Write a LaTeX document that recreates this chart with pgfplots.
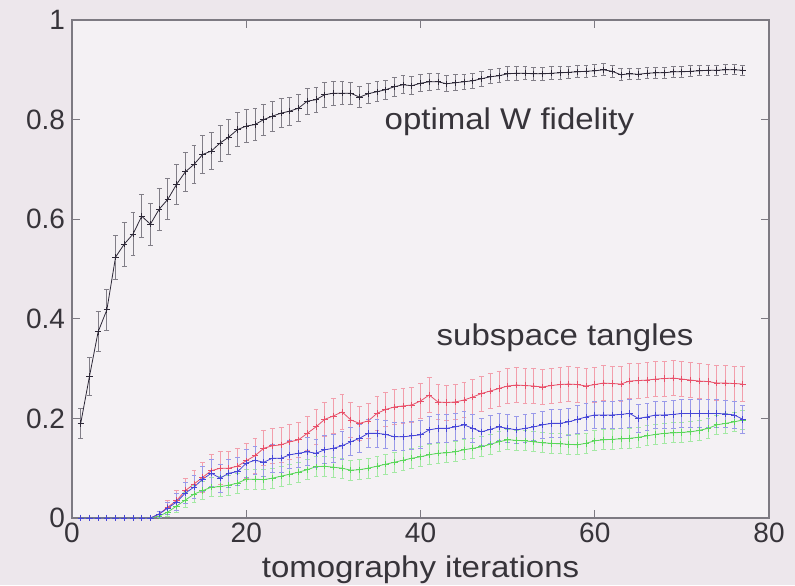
\documentclass[border=0pt]{standalone}
\usepackage{pgfplots}
\pgfplotsset{compat=1.18}
\usepackage{pgfplotstable}
\usepackage{fontspec}
\setmainfont{Liberation Sans}
\newfontfamily\widefont[FakeStretch=1.1]{Liberation Sans}
\definecolor{bgc}{RGB}{237,231,236}
\definecolor{txt}{RGB}{55,52,58}
\definecolor{axc}{RGB}{125,122,130}
\definecolor{cred}{RGB}{232,80,105}
\definecolor{cblue}{RGB}{70,70,215}
\definecolor{cgreen}{RGB}{90,215,90}
\definecolor{cblack}{RGB}{45,40,55}

\pgfplotstableread{
x y e
1 0.19 0.030
2 0.284 0.038
3 0.374 0.040
4 0.418 0.042
5 0.524 0.044
6 0.55 0.044
7 0.57 0.043
8 0.606 0.043
9 0.59 0.042
10 0.62 0.042
11 0.64 0.041
12 0.67 0.040
13 0.695 0.040
14 0.71 0.039
15 0.73 0.038
16 0.737 0.037
17 0.753 0.036
18 0.765 0.035
19 0.78 0.034
20 0.787 0.033
21 0.79 0.032
22 0.80 0.031
23 0.807 0.030
24 0.813 0.029
25 0.817 0.028
26 0.823 0.027
27 0.837 0.026
28 0.84 0.025
29 0.85 0.025
30 0.853 0.024
31 0.853 0.023
32 0.853 0.022
33 0.845 0.021
34 0.852 0.020
35 0.856 0.020
36 0.86 0.019
37 0.866 0.019
38 0.87 0.018
39 0.868 0.018
40 0.873 0.017
41 0.876 0.017
42 0.876 0.016
43 0.872 0.016
44 0.874 0.016
45 0.876 0.015
46 0.878 0.015
47 0.882 0.015
48 0.886 0.014
49 0.888 0.014
50 0.892 0.014
51 0.893 0.014
52 0.893 0.013
53 0.892 0.013
54 0.892 0.013
55 0.893 0.013
56 0.894 0.013
57 0.895 0.012
58 0.896 0.012
59 0.897 0.012
60 0.898 0.012
61 0.90 0.012
62 0.897 0.012
63 0.89 0.012
64 0.892 0.011
65 0.891 0.011
66 0.893 0.011
67 0.894 0.011
68 0.894 0.011
69 0.896 0.011
70 0.896 0.011
71 0.897 0.011
72 0.898 0.010
73 0.899 0.010
74 0.899 0.010
75 0.9 0.010
76 0.9 0.010
77 0.899 0.010
}\fidelity

\pgfplotstableread{
x y e
1 0 0
2 0 0
3 0 0
4 0 0
5 0 0
6 0 0
7 0 0
8 0 0
9 0 0
10 0.008 0.006
11 0.022 0.014
12 0.035 0.020
13 0.055 0.025
14 0.068 0.028
15 0.082 0.030
16 0.095 0.032
17 0.10 0.033
18 0.10 0.034
19 0.104 0.035
20 0.115 0.035
21 0.125 0.035
22 0.14 0.035
23 0.145 0.035
24 0.147 0.035
25 0.153 0.035
26 0.157 0.035
27 0.17 0.035
28 0.183 0.035
29 0.198 0.035
30 0.205 0.035
31 0.213 0.035
32 0.197 0.035
33 0.19 0.035
34 0.195 0.035
35 0.21 0.035
36 0.218 0.035
37 0.223 0.035
38 0.225 0.035
39 0.227 0.035
40 0.235 0.035
41 0.247 0.035
42 0.233 0.035
43 0.232 0.035
44 0.233 0.035
45 0.237 0.035
46 0.243 0.035
47 0.25 0.035
48 0.255 0.035
49 0.26 0.035
50 0.265 0.035
51 0.267 0.035
52 0.266 0.035
53 0.265 0.035
54 0.263 0.035
55 0.266 0.035
56 0.268 0.035
57 0.269 0.035
58 0.268 0.035
59 0.265 0.035
60 0.268 0.035
61 0.271 0.035
62 0.27 0.035
63 0.269 0.035
64 0.275 0.035
65 0.276 0.035
66 0.277 0.035
67 0.279 0.035
68 0.28 0.035
69 0.281 0.035
70 0.279 0.035
71 0.277 0.035
72 0.275 0.035
73 0.274 0.035
74 0.271 0.035
75 0.271 0.035
76 0.27 0.035
77 0.269 0.035
}\tred

\pgfplotstableread{
x y e
1 0 0
2 0 0
3 0 0
4 0 0
5 0 0
6 0 0
7 0 0
8 0 0
9 0 0
10 0.008 0.006
11 0.02 0.012
12 0.032 0.017
13 0.05 0.021
14 0.062 0.023
15 0.078 0.025
16 0.09 0.027
17 0.08 0.028
18 0.09 0.028
19 0.093 0.028
20 0.11 0.028
21 0.116 0.028
22 0.112 0.028
23 0.12 0.028
24 0.12 0.028
25 0.127 0.028
26 0.13 0.028
27 0.133 0.028
28 0.13 0.028
29 0.137 0.028
30 0.14 0.028
31 0.145 0.028
32 0.153 0.028
33 0.16 0.028
34 0.17 0.028
35 0.17 0.028
36 0.168 0.028
37 0.163 0.028
38 0.163 0.028
39 0.165 0.028
40 0.167 0.028
41 0.177 0.028
42 0.18 0.028
43 0.18 0.028
44 0.183 0.028
45 0.187 0.028
46 0.18 0.028
47 0.173 0.028
48 0.178 0.028
49 0.183 0.028
50 0.18 0.028
51 0.177 0.028
52 0.18 0.028
53 0.183 0.028
54 0.187 0.028
55 0.19 0.028
56 0.19 0.028
57 0.193 0.028
58 0.198 0.028
59 0.203 0.028
60 0.207 0.028
61 0.207 0.028
62 0.207 0.028
63 0.208 0.028
64 0.21 0.028
65 0.2 0.028
66 0.203 0.028
67 0.207 0.028
68 0.207 0.028
69 0.208 0.028
70 0.21 0.028
71 0.21 0.028
72 0.21 0.028
73 0.21 0.028
74 0.21 0.028
75 0.209 0.028
76 0.207 0.028
77 0.198 0.028
}\tblue

\pgfplotstableread{
x y e
1 0 0
2 0 0
3 0 0
4 0 0
5 0 0
6 0 0
7 0 0
8 0 0
9 0 0
10 0.004 0.003
11 0.012 0.008
12 0.024 0.012
13 0.036 0.015
14 0.048 0.017
15 0.055 0.018
16 0.062 0.019
17 0.063 0.020
18 0.066 0.020
19 0.07 0.020
20 0.078 0.020
21 0.078 0.020
22 0.077 0.020
23 0.08 0.020
24 0.084 0.020
25 0.088 0.020
26 0.092 0.020
27 0.097 0.020
28 0.103 0.020
29 0.104 0.020
30 0.102 0.020
31 0.1 0.020
32 0.096 0.020
33 0.097 0.020
34 0.1 0.020
35 0.104 0.020
36 0.108 0.020
37 0.112 0.020
38 0.116 0.020
39 0.12 0.020
40 0.123 0.020
41 0.127 0.020
42 0.13 0.020
43 0.131 0.020
44 0.133 0.020
45 0.137 0.020
46 0.14 0.020
47 0.143 0.020
48 0.148 0.020
49 0.153 0.020
50 0.157 0.020
51 0.156 0.020
52 0.155 0.020
53 0.153 0.020
54 0.151 0.020
55 0.15 0.020
56 0.149 0.020
57 0.148 0.020
58 0.147 0.020
59 0.15 0.020
60 0.155 0.020
61 0.157 0.020
62 0.158 0.020
63 0.159 0.020
64 0.16 0.020
65 0.162 0.020
66 0.165 0.020
67 0.168 0.020
68 0.17 0.020
69 0.171 0.020
70 0.172 0.020
71 0.173 0.020
72 0.176 0.020
73 0.18 0.020
74 0.187 0.020
75 0.19 0.020
76 0.193 0.020
77 0.197 0.020
}\tgreen

\begin{document}
\begin{tikzpicture}
\path[use as bounding box, fill=bgc] (0,0) rectangle (397.5pt,292.5pt);
\begin{axis}[
  at={(36pt,33.5pt)}, anchor=south west,
  scale only axis, width=348.5pt, height=249pt,
  xmin=0, xmax=80, ymin=0, ymax=1,
  xtick={0,20,40,60,80}, ytick={0,0.2,0.4,0.6,0.8,1},
  yticklabels={0,0.2,0.4,0.6,0.8,1},
  tick align=inside, tick pos=both,
  major tick length=4pt,
  axis line style={axc, line width=0.8pt},
  tick style={axc, line width=0.6pt},
  axis background/.style={fill=bgc!60!white},
  every tick label/.append style={font=\fontsize{14}{16}\selectfont, text=txt},
  /pgf/number format/assume math mode=true,
  xticklabel style={yshift=1.3pt},
  xlabel={tomography iterations},
  xlabel style={font=\widefont\fontsize{15}{17}\selectfont, text=txt,
    at={(axis description cs:0.5,0)}, anchor=base, yshift=-29.5pt},
  clip=false,
]
\addplot[cblack, line width=0.4pt, mark=+, mark size=1.6pt,
  error bars/.cd, y dir=both, y explicit,
  error bar style={cblack!60, line width=0.4pt},
  error mark options={rotate=90, mark size=1.2pt, cblack!60}]
  table[x=x, y=y, y error=e]{\fidelity};
\addplot[cred, line width=0.4pt, mark=+, mark size=1.6pt,
  error bars/.cd, y dir=both, y explicit,
  error bar style={cred!55, line width=0.4pt},
  error mark options={rotate=90, mark size=1.2pt, cred!55}]
  table[x=x, y=y, y error=e]{\tred};
\addplot[cgreen, line width=0.4pt, mark=+, mark size=1.6pt,
  error bars/.cd, y dir=both, y explicit,
  error bar style={cgreen!55, line width=0.4pt},
  error mark options={rotate=90, mark size=1.2pt, cgreen!55}]
  table[x=x, y=y, y error=e]{\tgreen};
\addplot[cblue, line width=0.4pt, mark=+, mark size=1.6pt,
  error bars/.cd, y dir=both, y explicit,
  error bar style={cblue!55, line width=0.4pt},
  error mark options={rotate=90, mark size=1.2pt, cblue!55}]
  table[x=x, y=y, y error=e]{\tblue};
\node[font=\widefont\fontsize{15}{17}\selectfont, text=txt] at (axis cs:50.2,0.795) {optimal W fidelity};
\node[font=\widefont\fontsize{15}{17}\selectfont, text=txt] at (axis cs:56.6,0.361) {subspace tangles};
\end{axis}
\end{tikzpicture}
\end{document}
